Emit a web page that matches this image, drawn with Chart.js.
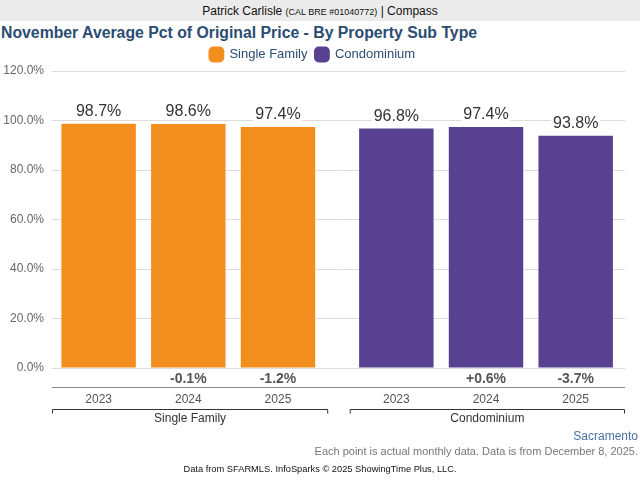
<!DOCTYPE html>
<html lang="en">
<head>
    <meta charset="UTF-8">
    <title>November Average Pct of Original Price - By Property Sub Type</title>
    <script src="https://cdn.jsdelivr.net/npm/chart.js"></script>
    <style>
        body {
            margin: 0;
            width: 640px;
            height: 480px;
            position: relative;
            overflow: hidden;
            font-family: "Liberation Sans", Arial, sans-serif;
            background: #fff;
        }
        #agent {
            position: absolute;
            top: 0; left: 0; width: 640px; height: 21px;
            background: #ebebeb;
            text-align: center;
            font-size: 12px;
            line-height: 22px;
            color: #111;
        }
        #agent small { font-size: 9px; }
        #title {
            position: absolute;
            top: 24px; left: 1px;
            font-size: 15.8px;
            font-weight: bold;
            color: #2b4c73;
        }
        #wrap {
            position: absolute;
            top: 40px; left: 0;
            width: 640px; height: 393px;
        }
        .foot { position: absolute; right: 2px; white-space: nowrap; }
        #place { top: 429px; font-size: 12px; color: #4a70a6; }
        #note { top: 445px; font-size: 11px; color: #777; }
        #source { top: 464px; left: 0; right: 0; text-align: center; font-size: 9.3px; color: #111; }
    </style>
</head>
<body>
    <div id="agent">Patrick Carlisle <small>(CAL BRE #01040772)</small> | Compass</div>
    <div id="title">November Average Pct of Original Price - By Property Sub Type</div>
    <div id="wrap"><canvas id="chart"></canvas></div>
    <div class="foot" id="place">Sacramento</div>
    <div class="foot" id="note">Each point is actual monthly data. Data is from December 8, 2025.</div>
    <div class="foot" id="source">Data from SFARMLS. InfoSparks © 2025 ShowingTime Plus, LLC.</div>

    <script>
        const years = ['2023', '2024', '2025'];
        const groups = ['Single Family', 'Condominium'];
        const singleFamily = [98.7, 98.6, 97.4];
        const condominium = [96.8, 97.4, 93.8];
        const singleFamilyChange = ['', '-0.1%', '-1.2%'];
        const condominiumChange = ['', '+0.6%', '-3.7%'];
        const yTicks = [0, 20, 40, 60, 80, 100, 120];

        const groupGap = 0.32; // extra space between the two groups, in bar slots
        const colors = ['#f28e1e', '#574190'];

        function slot(g, i) {
            return g * (years.length + groupGap) + i;
        }

        const series = [singleFamily, condominium];
        const changes = [singleFamilyChange, condominiumChange];
        const slots = groups.flatMap((name, g) => years.map((yr, i) => slot(g, i)));

        const datasets = groups.map((name, g) => ({
            label: name,
            data: series[g].map((v, i) => ({ x: slot(g, i), y: v })),
            backgroundColor: colors[g],
            grouped: false,
            barPercentage: 0.83,
            categoryPercentage: 1
        }));

        const labelPlugin = {
            id: 'labels',
            afterDatasetsDraw(chart) {
                const ctx = chart.ctx;
                const x = chart.scales.x;
                const area = chart.chartArea;
                ctx.save();
                ctx.textAlign = 'center';
                ctx.textBaseline = 'middle';

                // values above bars
                ctx.font = '16px "Liberation Sans", Arial, sans-serif';
                chart.data.datasets.forEach((ds, g) => {
                    chart.getDatasetMeta(g).data.forEach((bar, i) => {
                        const txt = series[g][i].toFixed(1) + '%';
                        const w = ctx.measureText(txt).width;
                        const cy = bar.y - 12;
                        ctx.fillStyle = '#fff';
                        ctx.fillRect(bar.x - w / 2 - 2, cy - 8, w + 4, 16);
                        ctx.fillStyle = '#333';
                        ctx.fillText(txt, bar.x, cy);
                    });
                });

                // change labels
                ctx.font = 'bold 14px "Liberation Sans", Arial, sans-serif';
                ctx.fillStyle = '#555';
                groups.forEach((name, g) => {
                    changes[g].forEach((c, i) => {
                        if (c) ctx.fillText(c, x.getPixelForValue(slot(g, i)), area.bottom + 11);
                    });
                });

                // axis line
                ctx.strokeStyle = '#888';
                ctx.lineWidth = 1;
                ctx.beginPath();
                ctx.moveTo(area.left, area.bottom + 19.5);
                ctx.lineTo(area.right, area.bottom + 19.5);
                ctx.stroke();

                // years
                ctx.font = '12px "Liberation Sans", Arial, sans-serif';
                ctx.fillStyle = '#555';
                groups.forEach((name, g) => {
                    years.forEach((yr, i) => {
                        ctx.fillText(yr, x.getPixelForValue(slot(g, i)), area.bottom + 32);
                    });
                });

                // group brackets
                ctx.strokeStyle = '#333';
                groups.forEach((name, g) => {
                    const x0 = Math.max(area.left, x.getPixelForValue(slot(g, 0) - 0.52));
                    const x1 = Math.min(area.right, x.getPixelForValue(slot(g, years.length - 1) + 0.56));
                    const by = area.bottom + 41.5;
                    ctx.beginPath();
                    ctx.moveTo(x0 + 0.5, by + 4);
                    ctx.lineTo(x0 + 0.5, by);
                    ctx.lineTo(x1 - 0.5, by);
                    ctx.lineTo(x1 - 0.5, by + 4);
                    ctx.stroke();
                    ctx.fillStyle = '#333';
                    ctx.fillText(name, (x0 + x1) / 2, by + 9);
                });
                ctx.restore();
            }
        };

        Chart.defaults.font.family = '"Liberation Sans", Arial, sans-serif';
        Chart.defaults.animation = false;

        new Chart(document.getElementById('chart'), {
            type: 'bar',
            data: { datasets: datasets },
            options: {
                responsive: true,
                maintainAspectRatio: false,
                layout: { padding: { left: 0, right: 15, top: 0, bottom: 65 } },
                plugins: {
                    legend: {
                        position: 'top',
                        labels: {
                            usePointStyle: true,
                            pointStyle: 'rectRounded',
                            boxWidth: 13,
                            boxHeight: 13,
                            color: '#2b4c73',
                            font: { size: 13 },
                            padding: 8
                        }
                    },
                    tooltip: { enabled: false }
                },
                scales: {
                    x: {
                        type: 'linear',
                        display: false,
                        offset: false,
                        min: -0.52,
                        max: slot(1, 2) + 0.55,
                        afterBuildTicks(scale) {
                            scale.ticks = slots.map(v => ({ value: v }));
                        }
                    },
                    y: {
                        min: 0,
                        max: 120,
                        afterBuildTicks(scale) {
                            scale.ticks = yTicks.map(v => ({ value: v }));
                        },
                        afterFit(scale) { scale.width = 52; },
                        border: { display: false },
                        grid: { color: '#dcdcdc', drawTicks: false },
                        ticks: {
                            color: '#666',
                            font: { size: 12 },
                            padding: 8,
                            callback: v => v.toFixed(1) + '%'
                        }
                    }
                }
            },
            plugins: [labelPlugin]
        });
    </script>
</body>
</html>
